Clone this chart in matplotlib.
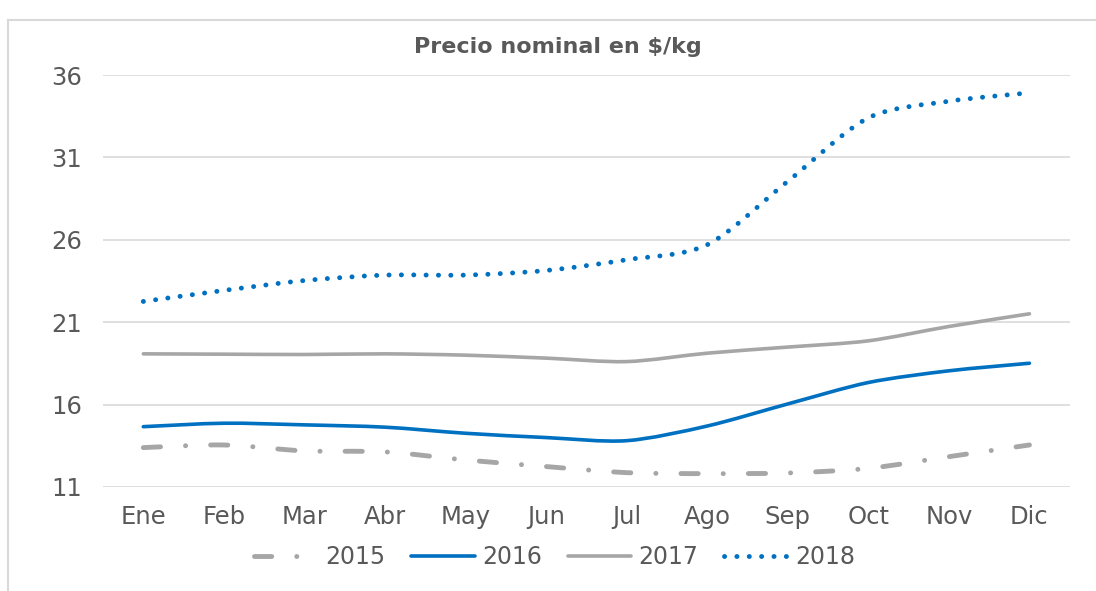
import numpy as np
import matplotlib
matplotlib.use("Agg")
import matplotlib.pyplot as plt
from matplotlib.path import Path
from matplotlib.patches import PathPatch
from matplotlib.lines import Line2D

plt.rcParams['font.family'] = ['DejaVu Sans']
plt.rcParams['lines.scale_dashes'] = False

# data
months = ['Ene', 'Feb', 'Mar', 'Abr', 'May', 'Jun',
          'Jul', 'Ago', 'Sep', 'Oct', 'Nov', 'Dic']
p2015 = [13.39, 13.55, 13.19, 13.13, 12.64, 12.24,
         11.87, 11.81, 11.85, 12.13, 12.84, 13.55]
p2016 = [14.66, 14.87, 14.77, 14.63, 14.26, 14.00,
         13.81, 14.70, 16.04, 17.34, 18.05, 18.51]
p2017 = [19.08, 19.06, 19.04, 19.08, 19.00, 18.82,
         18.61, 19.12, 19.49, 19.87, 20.74, 21.51]
p2018 = [22.26, 22.93, 23.53, 23.86, 23.86, 24.14,
         24.79, 25.70, 29.55, 33.40, 34.41, 34.92]
years = ['2015', '2016', '2017', '2018']
yticks = [11, 16, 21, 26, 31, 36]

BLUE = '#0070C0'
GRAY = '#A6A6A6'
TXT = '#595959'

styles = {
    '2015': dict(color=GRAY, lw=3.5, ls=(0, (12.4, 18, 0.1, 18))),
    '2016': dict(color=BLUE, lw=2.6, ls='-'),
    '2017': dict(color=GRAY, lw=2.6, ls='-'),
    '2018': dict(color=BLUE, lw=3.5, ls=(0, (0.1, 8.8))),
}


def smooth_path(xs, ys, k=7.0):
    """Excel-like smoothed line as cubic Bezier path in data coords."""
    pts = np.column_stack([xs, ys]).astype(float)
    n = len(pts)
    verts = [pts[0]]
    codes = [Path.MOVETO]
    for i in range(n - 1):
        p0 = pts[max(i - 1, 0)]
        p1 = pts[i]
        p2 = pts[i + 1]
        p3 = pts[min(i + 2, n - 1)]
        c1 = p1 + (p2 - p0) / k
        c2 = p2 - (p3 - p1) / k
        verts += [c1, c2, p2]
        codes += [Path.CURVE4] * 3
    return Path(verts, codes)


fig = plt.figure(figsize=(10.96, 5.91), dpi=100)
ax = fig.add_axes([0.094, 0.176, 0.882, 0.697])

x = np.arange(len(months))
for name, vals in zip(years, [p2015, p2016, p2017, p2018]):
    st = styles[name]
    patch = PathPatch(smooth_path(x, vals), facecolor='none',
                      edgecolor=st['color'], lw=st['lw'], linestyle=st['ls'],
                      capstyle='round', joinstyle='round', zorder=3)
    ax.add_patch(patch)

ax.set_xlim(-0.5, len(months) - 0.5)
ax.set_ylim(11, 36)
ax.set_xticks(x)
ax.set_xticklabels(months)
ax.set_yticks(yticks)
ax.tick_params(axis='both', length=0, labelsize=17.5, colors=TXT)
ax.tick_params(axis='x', pad=13)
ax.tick_params(axis='y', pad=15)
ax.grid(axis='y', color='#D9D9D9', lw=1.2)
ax.set_axisbelow(True)
for sp in ax.spines.values():
    sp.set_visible(False)

fig.text(0.509, 0.920, 'Precio nominal en $/kg', ha='center', va='center',
         fontsize=16, fontweight='bold', color=TXT)

handles = [Line2D([], [], color=styles[y]['color'], lw=styles[y]['lw'],
                  ls=styles[y]['ls'], dash_capstyle='round',
                  solid_capstyle='round') for y in years]
leg = fig.legend(handles, years, loc='center', ncol=4,
                 bbox_to_anchor=(0.506, 1 - 557 / 591), frameon=False,
                 fontsize=17, handlelength=2.7, handletextpad=0.3,
                 columnspacing=1.1, labelcolor=TXT)

# outer chart frame (partly cut off in the reference)
fig.add_artist(Line2D([8 / 1096, 8 / 1096], [0, 1 - 20 / 591],
                      transform=fig.transFigure, color='#D9D9D9', lw=1.5))
fig.add_artist(Line2D([8 / 1096, 1], [1 - 20 / 591, 1 - 20 / 591],
                      transform=fig.transFigure, color='#D9D9D9', lw=1.5))

fig.savefig('out.png', dpi=100, facecolor='white')
